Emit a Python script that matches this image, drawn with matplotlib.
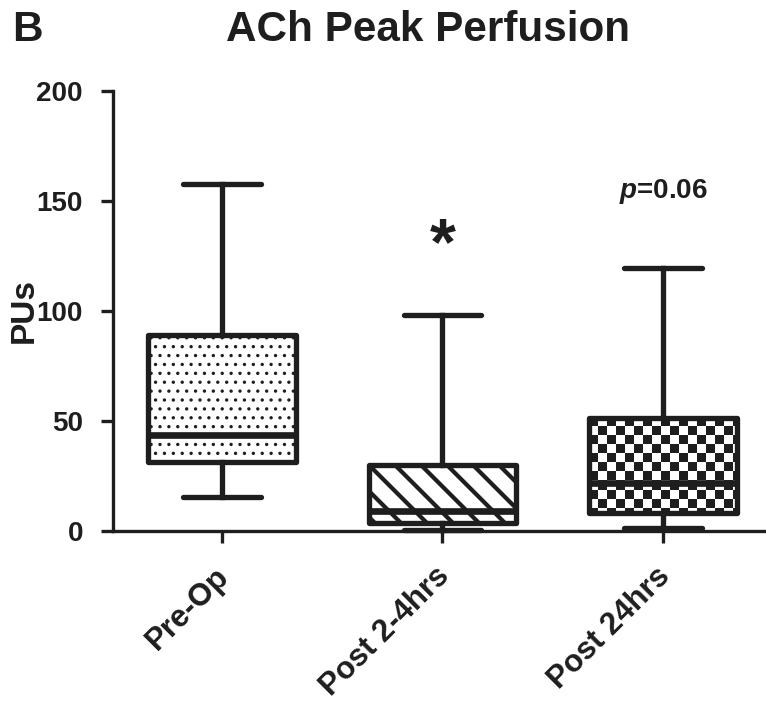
import numpy as np
import matplotlib
matplotlib.use("Agg")
import matplotlib.pyplot as plt
from matplotlib.colors import ListedColormap
from matplotlib.transforms import ScaledTranslation

# ---- data ----
GROUPS = ["Pre-Op", "Post 2-4hrs", "Post 24hrs"]
WHISK_LO = [15.5, 0.5, 1.2]
Q1 = [31.5, 3.8, 8.0]
MEDIAN = [43.5, 9.0, 21.8]
Q3 = [89.0, 30.0, 51.4]
WHISK_HI = [157.7, 98.2, 119.5]
Y_TICKS = [0, 50, 100, 150, 200]

INK = "#1e1e1e"
DPI = 160
W_PX, H_PX = 766, 708
AX_RECT = [0.1475, 0.25, 0.8525, 0.6215]
XLIM = (-0.494, 2.467)
YLIM = (0, 200)

plt.rcParams.update({
    "font.family": ["Liberation Sans", "DejaVu Sans"],
    "font.weight": "bold",
    "mathtext.fontset": "custom",
    "mathtext.rm": "Liberation Sans:bold",
    "mathtext.it": "Liberation Sans:italic:bold",
    "hatch.linewidth": 0.7,
    "hatch.color": INK,
})

fig = plt.figure(figsize=(W_PX / DPI, H_PX / DPI), dpi=DPI)
ax = fig.add_axes(AX_RECT)

# px per data unit, used for the fill patterns only
SX = W_PX * AX_RECT[2] / (XLIM[1] - XLIM[0])
SY = H_PX * AX_RECT[3] / (YLIM[1] - YLIM[0])

pos = np.arange(len(GROUPS))
BOX_W = 0.67
stats = [
    {"whislo": lo, "q1": a, "med": m, "q3": b, "whishi": hi, "fliers": [], "label": g}
    for g, lo, a, m, b, hi in zip(GROUPS, WHISK_LO, Q1, MEDIAN, Q3, WHISK_HI)
]
bp = ax.bxp(
    stats, positions=pos, widths=BOX_W, capwidths=0.35,
    patch_artist=True, showfliers=False,
    boxprops=dict(facecolor="white", edgecolor=INK, linewidth=2.4, joinstyle="round"),
    whiskerprops=dict(color=INK, linewidth=2.4),
    capprops=dict(color=INK, linewidth=2.4, solid_capstyle="round"),
    medianprops=dict(color=INK, linewidth=3.0),
)
for art in bp["boxes"] + bp["whiskers"] + bp["caps"] + bp["medians"]:
    art.set_clip_on(False)
for m in bp["medians"]:
    m.set_zorder(4)

# Pre-Op: fine dots
bp["boxes"][0].set_hatch("...")

# Post 2-4hrs: thick diagonal stripes, ~26 px apart
b1 = bp["boxes"][1]
left, right = pos[1] - BOX_W / 2, pos[1] + BOX_W / 2
for c in np.arange(left * SX + Q1[1] * SY - 20, right * SX + Q3[1] * SY + 30, 26):
    xs = np.array([left - 0.1, right + 0.1])
    ln, = ax.plot(xs, (c - xs * SX) / SY, color=INK, lw=1.9, zorder=2.5)
    ln.set_clip_path(b1)

# Post 24hrs: checkerboard clipped to box
b2 = bp["boxes"][2]
b2.set_facecolor("none")
b2.set_zorder(3)
cw, ch = 9 / SX, 9 / SY
ncol, nrow = 20, 14
x0, y1 = pos[2] - BOX_W / 2, Q3[2]
checker = np.indices((nrow, ncol)).sum(axis=0) % 2
im = ax.imshow(1 - checker, cmap=ListedColormap(["white", INK]), interpolation="nearest",
               extent=(x0, x0 + ncol * cw, y1 - nrow * ch, y1), origin="upper",
               aspect="auto", zorder=2.5)
im.set_clip_path(b2)

ax.set_xlim(*XLIM)
ax.set_ylim(*YLIM)
ax.set_yticks(Y_TICKS)
ax.set_xticks(pos)
ax.set_xticklabels(GROUPS, rotation=45, ha="right", va="top", rotation_mode="anchor")
ax.tick_params(axis="both", width=1.5, length=5.5, color=INK, labelcolor=INK)
ax.tick_params(axis="y", labelsize=12.5, pad=8)
ax.tick_params(axis="x", labelsize=14, pad=8)
shift = ScaledTranslation(-8 / DPI, 0, fig.dpi_scale_trans)
for lab in ax.get_xticklabels():
    lab.set_transform(lab.get_transform() + shift)
for s in ["top", "right"]:
    ax.spines[s].set_visible(False)
for s in ["left", "bottom"]:
    ax.spines[s].set_linewidth(1.5)
    ax.spines[s].set_color(INK)
ax.set_ylabel("PUs", fontsize=15, fontweight="bold", color=INK)
ax.yaxis.set_label_coords(-0.112, 0.5)

ax.text(pos[1], 129, "*", ha="center", va="center", fontsize=30, color=INK)
ax.text(pos[2], 154.5, r"$p$=0.06", ha="center", va="center", fontsize=12.5, color=INK)

fig.text(0.559, 0.957, "ACh Peak Perfusion", ha="center", va="center", fontsize=19, color=INK)
fig.text(0.016, 0.957, "B", ha="left", va="center", fontsize=19, color=INK)

fig.savefig("out.png", dpi=DPI)
